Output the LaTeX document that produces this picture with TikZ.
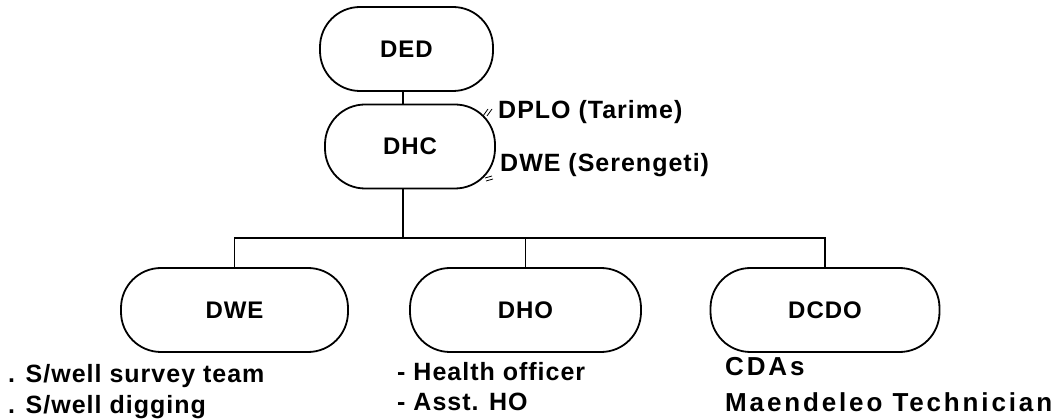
\documentclass[tikz,border=0pt]{standalone}
\usepackage{fontspec}
\setmainfont{Liberation Sans}
% tracked sans for all labels; the right-hand list is set a little wider
\newfontfamily\labfont[LetterSpace=4]{Liberation Sans}
\newfontfamily\widefont[LetterSpace=11]{Liberation Sans}
\begin{document}
\begin{tikzpicture}[x=1pt,y=-1pt,
  unit/.style={draw, line width=1.8pt, rounded corners=40pt,
    minimum height=84pt, inner sep=0pt,
    font=\labfont\bfseries\fontsize{24}{28}\selectfont},
  link/.style={line width=1.5pt},
  tick/.style={line width=0.8pt},
  txt/.style={anchor=base west, inner sep=0pt,
    font=\labfont\bfseries\fontsize{25}{29}\selectfont},
  widetxt/.style={txt, font=\widefont\bfseries\fontsize{26}{30}\selectfont}]
\useasboundingbox (0,0) rectangle (1062,419);

% units
\node[unit, minimum width=173pt] (ded)  at (406.5,49)  {DED};
\node[unit, minimum width=170pt] (dhc)  at (410,146.5) {DHC};
\node[unit, minimum width=227pt] (dwe)  at (234.5,310) {DWE};
\node[unit, minimum width=231pt] (dho)  at (525.5,310) {DHO};
\node[unit, minimum width=229pt] (dcdo) at (825,310)   {DCDO};

% trunk and distribution bus
\coordinate (bus) at (403,238);
\draw[link] (ded.south -| bus) -- (dhc.north -| bus);
\draw[link] (dhc.south -| bus) -- (bus);
\draw[link] (dwe.north) -- (dwe.north |- bus) -- (dcdo.north |- bus) -- (dcdo.north);
\draw[link] (dho.north) -- (dho.north |- bus);

% side links of the DHC
\node[txt] (dplo) at (498,119) {DPLO (Tarime)};
\node[txt] (dwes) at (500,172) {DWE (Serengeti)};
\draw[tick] (483,116) -- (488,109);
\draw[tick] (487,116) -- (492,109);
\draw[tick] (485,178) -- (492,176);
\draw[tick] (486,181) -- (493,179);

% staff lists
\node[txt] (s1) at (8,382)   {. S/well survey team};
\node[txt] (s2) at (8,413)   {. S/well digging};
\node[txt] (h1) at (397,380) {- Health officer};
\node[txt] (h2) at (397,410) {- Asst. HO};
\node[widetxt] (c1) at (725,375) {CDAs};
\node[widetxt] (c2) at (725,411) {Maendeleo Technician};
\end{tikzpicture}
\end{document}
